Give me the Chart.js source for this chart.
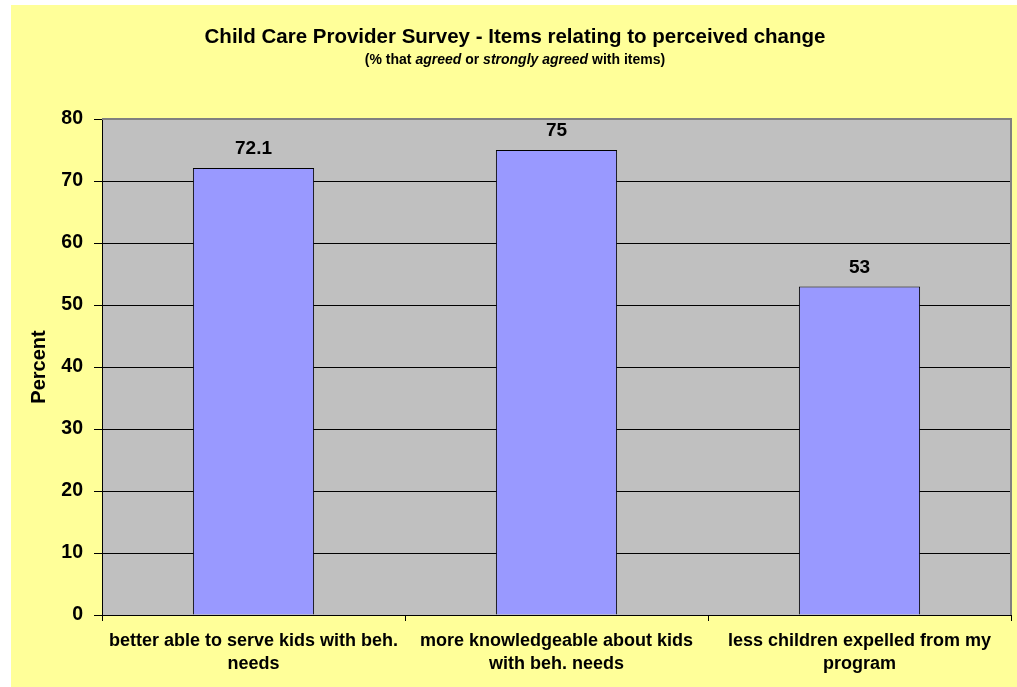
<!DOCTYPE html>
<html>
<head>
<meta charset="utf-8">
<title>Child Care Provider Survey</title>
<script src="https://cdn.jsdelivr.net/npm/chart.js@4"></script>
<style>
  body { margin: 0; background: #fff; }
  #wrap { width: 1017px; height: 687px; }
</style>
</head>
<body>
<div id="wrap"><canvas id="surveyChart" width="1017" height="687"></canvas></div>
<script>
const categories = [
  ["better able to serve kids with beh.", "needs"],
  ["more knowledgeable about kids", "with beh. needs"],
  ["less children expelled from my", "program"]
];
const percentAgreed = [72.1, 75, 53];
const yMin = 0;
const yMax = 80;
const yStep = 10;

const titleText = "Child Care Provider Survey - Items relating to perceived change";
// subtitle pieces: [text, italic]
const subtitleParts = [
  ["(% that ", false],
  ["agreed", true],
  [" or ", false],
  ["strongly agreed", true],
  [" with items)", false]
];

const FONT = "'Liberation Sans', Arial, sans-serif";

document.addEventListener("DOMContentLoaded", () => {
  // yellow sheet + grey plot area
  const backdrop = {
    id: "backdrop",
    beforeDraw(chart) {
      const { ctx, chartArea: a } = chart;
      ctx.save();
      ctx.fillStyle = "#ffffff";
      ctx.fillRect(0, 0, chart.width, chart.height);
      ctx.fillStyle = "#ffff99";
      ctx.fillRect(11, 5, chart.width - 11, chart.height - 5);
      ctx.fillStyle = "#c0c0c0";
      ctx.fillRect(a.left, a.top, a.right - a.left, a.bottom - a.top);
      ctx.restore();
    },
    afterDraw(chart) {
      const { ctx, chartArea: a } = chart;
      ctx.save();
      ctx.strokeStyle = "#808080";
      ctx.lineWidth = 2;
      ctx.beginPath();
      ctx.moveTo(a.left, a.top);
      ctx.lineTo(a.right, a.top);
      ctx.lineTo(a.right, a.bottom);
      ctx.stroke();
      ctx.restore();
    }
  };

  const titles = {
    id: "titles",
    afterDraw(chart) {
      const ctx = chart.ctx;
      const cx = 515;
      ctx.save();
      ctx.fillStyle = "#000";
      ctx.textBaseline = "middle";
      ctx.textAlign = "center";
      ctx.font = "bold 20.5px " + FONT;
      ctx.fillText(titleText, cx, 37);

      // mixed regular / italic line, measured piece by piece
      const fontFor = (it) => (it ? "italic " : "") + "bold 14px " + FONT;
      let total = 0;
      subtitleParts.forEach(([t, it]) => {
        ctx.font = fontFor(it);
        total += ctx.measureText(t).width;
      });
      let x = cx - total / 2;
      ctx.textAlign = "left";
      subtitleParts.forEach(([t, it]) => {
        ctx.font = fontFor(it);
        ctx.fillText(t, x, 60);
        x += ctx.measureText(t).width;
      });
      ctx.restore();
    }
  };

  const valueLabels = {
    id: "valueLabels",
    afterDatasetsDraw(chart) {
      const ctx = chart.ctx;
      const meta = chart.getDatasetMeta(0);
      ctx.save();
      ctx.fillStyle = "#000";
      ctx.font = "bold 19px " + FONT;
      ctx.textAlign = "center";
      ctx.textBaseline = "middle";
      meta.data.forEach((bar, i) => {
        ctx.fillText(String(percentAgreed[i]), bar.x, bar.y - 19);
      });
      ctx.restore();
    }
  };

  new Chart(document.getElementById("surveyChart"), {
    type: "bar",
    data: {
      labels: categories,
      datasets: [{
        label: "Percent",
        data: percentAgreed,
        backgroundColor: "#9999ff",
        borderColor: "#000000",
        borderWidth: 1,
        categoryPercentage: 1,
        barPercentage: 0.4
      }]
    },
    options: {
      responsive: false,
      animation: false,
      devicePixelRatio: 1,
      layout: { padding: { top: 119, right: 6, bottom: 0, left: 0 } },
      plugins: {
        legend: { display: false },
        tooltip: { enabled: false }
      },
      scales: {
        x: {
          afterFit(scale) { scale.height = 72; },
          grid: {
            offset: true,
            drawOnChartArea: false,
            drawTicks: true,
            tickLength: 6,
            color: "#000",
            tickColor: "#000"
          },
          border: { color: "#000", width: 1 },
          ticks: {
            color: "#000",
            padding: 9,
            maxRotation: 0,
            autoSkip: false,
            font: { family: FONT, size: 18, weight: "bold", lineHeight: 23 / 18 }
          }
        },
        y: {
          min: yMin,
          max: yMax,
          afterFit(scale) { scale.width = 102; },
          grid: {
            color: (c) => (c.tick && c.tick.value === yMax ? "#808080" : "#000"),
            tickColor: "#000",
            tickLength: 8,
            lineWidth: 1
          },
          border: { color: "#000", width: 1 },
          ticks: {
            stepSize: yStep,
            color: "#000",
            padding: 11,
            font: { family: FONT, size: 19.5, weight: "bold" }
          },
          title: {
            display: true,
            text: "Percent",
            color: "#000",
            padding: { top: 27, bottom: 0 },
            font: { family: FONT, size: 20, weight: "bold" }
          }
        }
      }
    },
    plugins: [backdrop, titles, valueLabels]
  });
});
</script>
</body>
</html>
